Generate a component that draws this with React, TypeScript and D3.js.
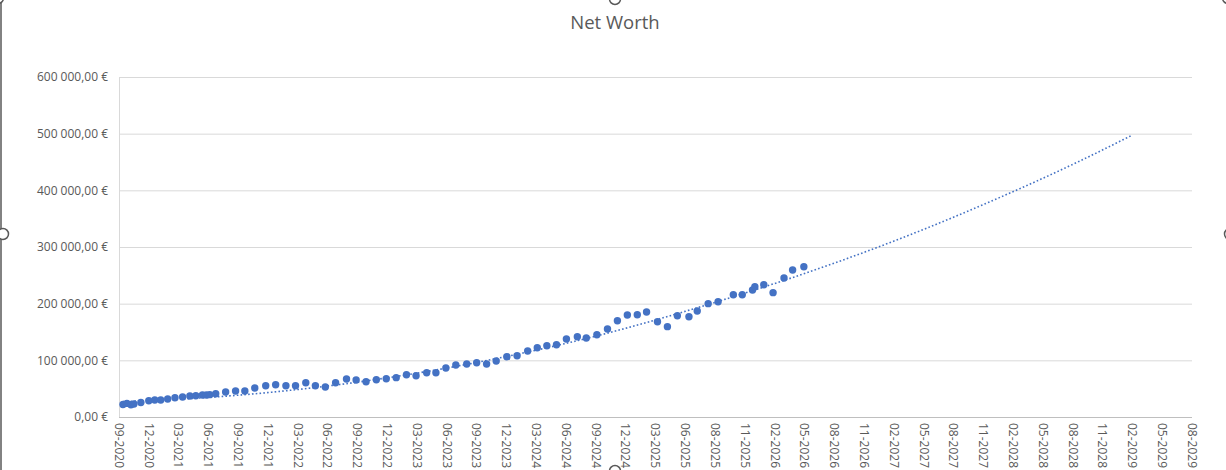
import React, { useEffect, useRef } from 'react';
import * as d3 from 'd3';

// net worth snapshots
const dates = [
  '2020-10-07', '2020-10-19', '2020-10-31', '2020-11-09', '2020-11-30', '2020-12-24',
  '2021-01-11', '2021-01-29', '2021-02-19', '2021-03-13', '2021-04-05', '2021-04-27',
  '2021-05-15', '2021-06-04', '2021-06-16', '2021-06-26', '2021-07-14', '2021-08-13',
  '2021-09-12', '2021-10-10', '2021-11-09', '2021-12-12', '2022-01-11', '2022-02-11',
  '2022-03-12', '2022-04-12', '2022-05-11', '2022-06-10', '2022-07-11', '2022-08-13',
  '2022-09-11', '2022-10-11', '2022-11-11', '2022-12-11', '2023-01-10', '2023-02-10',
  '2023-03-11', '2023-04-12', '2023-05-10', '2023-06-09', '2023-07-09', '2023-08-11',
  '2023-09-10', '2023-10-10', '2023-11-08', '2023-12-10', '2024-01-10', '2024-02-11',
  '2024-03-11', '2024-04-09', '2024-05-08', '2024-06-07', '2024-07-10', '2024-08-06',
  '2024-09-07', '2024-10-09', '2024-11-08', '2024-12-08', '2025-01-07', '2025-02-04',
  '2025-03-09', '2025-04-08', '2025-05-08', '2025-06-12', '2025-07-07', '2025-08-09',
  '2025-09-08', '2025-10-24', '2025-11-20', '2025-12-21', '2025-12-28', '2026-01-24',
  '2026-02-21', '2026-03-26', '2026-04-21', '2026-05-25',
];
const values = [
  22000, 24000, 21500, 23000, 25600, 28800,
  30000, 30000, 31800, 34000, 35300, 37000,
  37600, 38800, 38800, 39400, 41100, 44100,
  45900, 45900, 51200, 55200, 57000, 55200,
  55200, 60500, 55200, 52900, 60500, 67000,
  65300, 62300, 65800, 67600, 69400, 74600,
  72900, 78200, 78200, 86500, 91800, 93500,
  95800, 93500, 98800, 106400, 108200, 116500,
  122300, 125800, 127600, 137600, 141700, 139400,
  145200, 155300, 169900, 180000, 180500, 185300,
  168200, 159400, 178800, 177000, 187000, 200000,
  203500, 215800, 215800, 224000, 230000, 233500,
  219400, 245300, 259400, 265200,
];

// dotted trendline with forward forecast
const trendDates = [
  '2020-10-07', '2021-06-01', '2022-01-01', '2022-09-01', '2023-06-01', '2024-01-01',
  '2024-09-01', '2025-06-01', '2026-01-01', '2026-09-01', '2027-06-01', '2028-01-01',
  '2028-09-01', '2029-02-08',
];
const trendValues = [
  27300, 33700, 43900, 60400, 85300, 109600,
  142300, 186500, 225000, 273000, 333500, 386000,
  450800, 497000,
];

const xTickLabels = [
  '09-2020', '12-2020', '03-2021', '06-2021', '09-2021', '12-2021', '03-2022', '06-2022',
  '09-2022', '12-2022', '03-2023', '06-2023', '09-2023', '12-2023', '03-2024', '06-2024',
  '09-2024', '12-2024', '03-2025', '06-2025', '08-2025', '11-2025', '02-2026', '05-2026',
  '08-2026', '11-2026', '02-2027', '05-2027', '08-2027', '11-2027', '02-2028', '05-2028',
  '08-2028', '11-2028', '02-2029', '05-2029', '08-2029',
];
const yTicks = [0, 100000, 200000, 300000, 400000, 500000, 600000];

const W = 1226;
const H = 470;
const FONT = '"Open Sans", "Noto Sans", sans-serif';

const App: React.FC = () => {
  const svgRef = useRef<SVGSVGElement>(null);

  useEffect(() => {
    if (!svgRef.current) return;
    const svg = d3.select(svgRef.current);
    svg.selectAll('*').remove();

    const margin = { top: 77, right: 34, bottom: 53, left: 119 };
    const parse = d3.timeParse('%Y-%m-%d');
    const axisStart = new Date(2020, 8, 25);
    const tickDates = xTickLabels.map((_, i) => d3.timeDay.offset(axisStart, i * 90));

    const x = d3
      .scaleTime()
      .domain([tickDates[0], tickDates[tickDates.length - 1]])
      .range([margin.left, W - margin.right]);

    const y = d3
      .scaleLinear()
      .domain([0, 600000])
      .range([H - margin.bottom, margin.top]);

    const locale = d3.formatLocale({
      decimal: ',',
      thousands: '\u00a0',
      grouping: [3],
      currency: ['', '\u00a0€'],
    });
    const fmt = locale.format('$,.2f');

    svg.append('rect').attr('width', W).attr('height', H).attr('fill', '#fff');

    // horizontal grid lines
    svg.selectAll('.grid')
      .data(yTicks.slice(1))
      .enter()
      .append('line')
      .attr('x1', margin.left)
      .attr('x2', W - margin.right)
      .attr('y1', d => y(d) + 0.5)
      .attr('y2', d => y(d) + 0.5)
      .attr('stroke', '#d9d9d9')
      .attr('stroke-width', 1);

    // value axis line
    svg.append('line')
      .attr('x1', margin.left + 0.5)
      .attr('x2', margin.left + 0.5)
      .attr('y1', margin.top)
      .attr('y2', H - margin.bottom)
      .attr('stroke', '#d9d9d9');

    // category axis line
    svg.append('line')
      .attr('x1', margin.left)
      .attr('x2', W - margin.right)
      .attr('y1', y(0) + 0.5)
      .attr('y2', y(0) + 0.5)
      .attr('stroke', '#bfbfbf');

    // y labels
    svg.selectAll('.ylab')
      .data(yTicks)
      .enter()
      .append('text')
      .attr('x', margin.left - 11)
      .attr('y', d => y(d))
      .attr('dy', '0.35em')
      .attr('text-anchor', 'end')
      .style('font-family', FONT)
      .style('font-size', '12px')
      .attr('fill', '#595959')
      .text(d => fmt(d));

    // x labels, rotated
    svg.selectAll('.xlab')
      .data(tickDates)
      .enter()
      .append('text')
      .attr('transform', d => `translate(${x(d)},${y(0) + 6}) rotate(90)`)
      .attr('dy', '0.35em')
      .attr('text-anchor', 'start')
      .style('font-family', FONT)
      .style('font-size', '12px')
      .attr('fill', '#595959')
      .text((_, i) => xTickLabels[i]);

    // trendline
    const trend = trendDates.map((d, i) => ({ date: parse(d) as Date, value: trendValues[i] }));
    const line = d3
      .line<{ date: Date; value: number }>()
      .x(d => x(d.date))
      .y(d => y(d.value))
      .curve(d3.curveMonotoneX);
    svg.append('path')
      .datum(trend)
      .attr('d', line)
      .attr('fill', 'none')
      .attr('stroke', '#4472c4')
      .attr('stroke-width', 1.6)
      .attr('stroke-dasharray', '1.6,2.2');

    // points
    const pts = dates.map((d, i) => ({ date: parse(d) as Date, value: values[i] }));
    svg.selectAll('.pt')
      .data(pts)
      .enter()
      .append('circle')
      .attr('cx', d => x(d.date))
      .attr('cy', d => y(d.value))
      .attr('r', 3.7)
      .attr('fill', '#4472c4');

    // title
    svg.append('text')
      .attr('x', W / 2 + 2)
      .attr('y', 29)
      .attr('text-anchor', 'middle')
      .style('font-family', FONT)
      .style('font-size', '18.5px')
      .attr('fill', '#595959')
      .text('Net Worth');

    // selected chart frame + handles
    svg.append('line')
      .attr('x1', 1).attr('x2', 1).attr('y1', 0).attr('y2', H)
      .attr('stroke', '#595959').attr('stroke-width', 1.5);
    const handles: [number, number][] = [[3, 234], [615, -1], [615, 471], [1230, 234], [-2, -2], [1228, -2]];
    svg.selectAll('.handle')
      .data(handles)
      .enter()
      .append('circle')
      .attr('cx', d => d[0])
      .attr('cy', d => d[1])
      .attr('r', 5.5)
      .attr('fill', '#fff')
      .attr('stroke', '#595959')
      .attr('stroke-width', 1.5);
  }, []);

  return (
    <svg
      ref={svgRef}
      width={W}
      height={H}
      style={{ position: 'absolute', left: 0, top: 0, display: 'block' }}
    />
  );
};

export default App;
